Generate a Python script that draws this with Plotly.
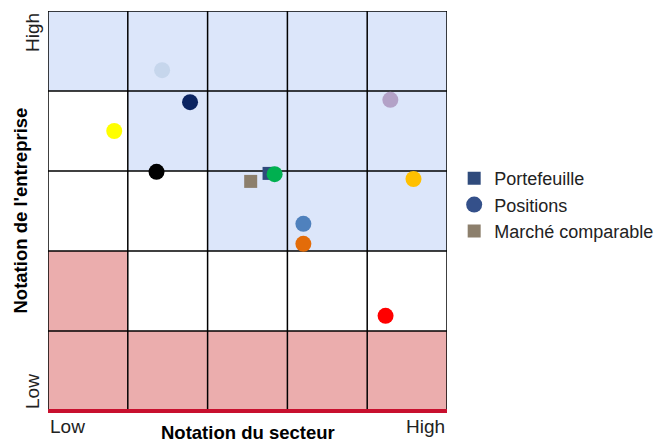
import plotly.graph_objects as go

# Grid zones, rows from bottom (Low) to top (High): 'b' blue, 'w' white, 'p' pink
zone_rows = [
    ["p", "p", "p", "p", "p"],
    ["p", "w", "w", "w", "w"],
    ["w", "w", "b", "b", "b"],
    ["w", "b", "b", "b", "b"],
    ["b", "b", "b", "b", "b"],
]

positions_x = [1.43, 1.78, 0.83, 1.36, 2.84, 3.20, 3.20, 4.29, 4.58, 4.23]
positions_y = [4.26, 3.86, 3.50, 2.99, 2.96, 2.34, 2.09, 3.89, 2.90, 1.19]
positions_colors = ["#c6d6ec", "#0b2461", "#ffff00", "#000000", "#00b050",
                    "#4f81bd", "#e36c09", "#b3a2c7", "#ffc000", "#ff0000"]

portfolio_x = [2.77]
portfolio_y = [2.97]
market_x = [2.54]
market_y = [2.87]

legend_names = ["Portefeuille", "Positions", "Marché comparable"]
axis_ticks = ["Low", "High"]
x_title = "Notation du secteur"
y_title = "Notation de l'entreprise"

zone_colors = {"b": "#dce6fa", "w": "#ffffff", "p": "#ebadad"}

fig = go.Figure()

shapes = []
for r, row in enumerate(zone_rows):
    for c, z in enumerate(row):
        shapes.append(dict(type="rect", xref="x", yref="y", x0=c, x1=c + 1, y0=r, y1=r + 1,
                           fillcolor=zone_colors[z], line=dict(width=0), layer="below"))
for i in range(0, 6):
    shapes.append(dict(type="line", xref="x", yref="y", x0=i, x1=i, y0=0, y1=5,
                       line=dict(color="#000000", width=1.5), layer="below"))
    if i > 0:
        shapes.append(dict(type="line", xref="x", yref="y", x0=0, x1=5, y0=i, y1=i,
                           line=dict(color="#000000", width=1.5), layer="below"))
shapes.append(dict(type="line", xref="paper", yref="paper", x0=0, x1=1, y0=0, y1=0,
                   line=dict(color="#c8102e", width=4)))

fig.add_trace(go.Scatter(x=portfolio_x, y=portfolio_y, mode="markers", name=legend_names[0],
                         marker=dict(symbol="square", size=13, color="#2f4b7c")))
fig.add_trace(go.Scatter(x=[None], y=[None], mode="markers", name=legend_names[1],
                         marker=dict(symbol="circle", size=16, color="#34508a")))
fig.add_trace(go.Scatter(x=market_x, y=market_y, mode="markers", name=legend_names[2],
                         marker=dict(symbol="square", size=13, color="#8c7f6c")))
fig.add_trace(go.Scatter(x=positions_x, y=positions_y, mode="markers", showlegend=False,
                         marker=dict(symbol="circle", size=16, color=positions_colors)))

font_family = "Liberation Sans, Arial, sans-serif"
tick_font = dict(size=19, color="#222")
title_font = dict(size=18.5, color="#000")
annotations = [
    dict(x=0, y=0, xref="x", yref="y", text=axis_ticks[0], showarrow=False,
         xanchor="left", yanchor="top", yshift=-3, font=tick_font),
    dict(x=5, y=0, xref="x", yref="y", text=axis_ticks[1], showarrow=False,
         xanchor="right", yanchor="top", yshift=-3, font=tick_font),
    dict(x=0, y=0, xref="x", yref="y", text=axis_ticks[0], showarrow=False, textangle=-90,
         xanchor="right", yanchor="bottom", xshift=-3, font=tick_font),
    dict(x=0, y=5, xref="x", yref="y", text=axis_ticks[1], showarrow=False, textangle=-90,
         xanchor="right", yanchor="top", xshift=-3, font=tick_font),
    dict(x=2.5, y=0, xref="x", yref="y", text="<b>" + x_title + "</b>", showarrow=False,
         xanchor="center", yanchor="top", yshift=-9, font=title_font),
    dict(x=0, y=2.5, xref="x", yref="y", text="<b>" + y_title + "</b>", showarrow=False,
         textangle=-90, xanchor="right", yanchor="middle", xshift=-16, font=title_font),
]

fig.update_layout(
    width=667, height=434,
    margin=dict(l=40, r=228, t=3, b=31),
    paper_bgcolor="white", plot_bgcolor="white",
    font=dict(family=font_family, size=18, color="#222"),
    shapes=shapes, annotations=annotations,
    xaxis=dict(range=[0, 5], showgrid=False, zeroline=False, showticklabels=False,
               ticks="", fixedrange=True),
    yaxis=dict(range=[0, 5], showgrid=False, zeroline=False, showticklabels=False,
               ticks="", fixedrange=True),
    legend=dict(x=1.018, y=0.515, xanchor="left", yanchor="middle",
                font=dict(size=18, color="#222"), itemwidth=30, tracegroupgap=0,
                bgcolor="rgba(0,0,0,0)"),
    showlegend=True,
)

fig.write_html("out.html")
